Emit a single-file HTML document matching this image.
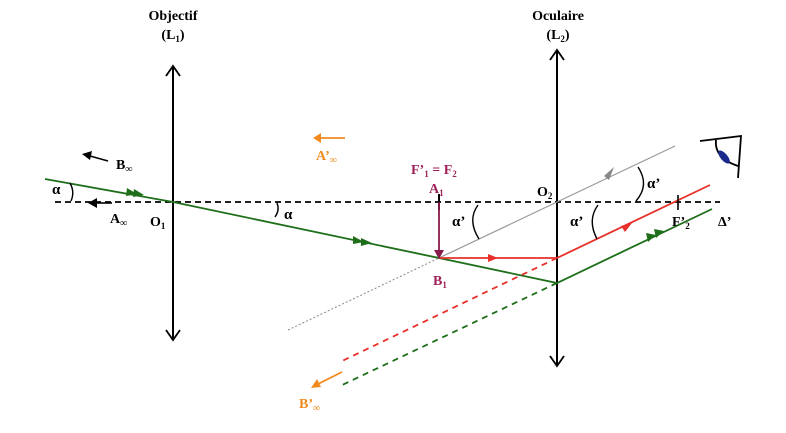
<!DOCTYPE html>
<html><head><meta charset="utf-8"><style>
body{margin:0;background:#fff}
text{font-family:"Liberation Serif",serif;font-weight:bold}
</style></head><body>
<svg width="786" height="428" viewBox="0 0 786 428" xmlns="http://www.w3.org/2000/svg">
<!-- axis -->
<line x1="55" y1="202" x2="720" y2="202" stroke="#000" stroke-width="1.8" stroke-dasharray="6,4"/>
<!-- lenses -->
<line x1="173" y1="340" x2="173" y2="66" stroke="#000" stroke-width="2"/>
<path d="M166,76 L173,66 L180,76 M166,330 L173,340 L180,330" fill="none" stroke="#000" stroke-width="1.8"/>
<line x1="557" y1="366" x2="557" y2="50" stroke="#000" stroke-width="2"/>
<path d="M550,60 L557,50 L564,60 M550,356 L557,366 L564,356" fill="none" stroke="#000" stroke-width="1.8"/>
<!-- gray ray -->
<line x1="288" y1="330" x2="439" y2="258" stroke="#888" stroke-width="1" stroke-dasharray="2,2"/>
<line x1="439" y1="258" x2="675" y2="146" stroke="#999" stroke-width="1.2"/>
<path d="M604,176 L614,167 L609,180 Z" fill="#888"/>
<!-- green -->
<polyline points="45,179 173,202 439,258 557,283 712,209" fill="none" stroke="#1e6e1a" stroke-width="1.8"/>
<path d="M127,188 L137,194 L126,196 Z M134,189 L144,195 L133,197 Z" fill="#1e6e1a"/>
<path d="M353,236 L364,242 L353,244 Z M361,238 L372,243 L361,246 Z" fill="#1e6e1a"/>
<path d="M646,233 L656,235 L648,242 Z M654,229 L664,231 L656,238 Z" fill="#1e6e1a"/>
<line x1="557" y1="283" x2="340" y2="386" stroke="#1e6e1a" stroke-width="1.8" stroke-dasharray="6,5"/>
<!-- red -->
<polyline points="439,258 557,258 710,185" fill="none" stroke="#e8302a" stroke-width="1.8"/>
<path d="M488,254 L498,258 L488,262 Z" fill="#e8302a"/>
<path d="M621,226 L632,223 L625,232 Z" fill="#e8302a"/>
<line x1="557" y1="258" x2="340" y2="362" stroke="#e8302a" stroke-width="1.8" stroke-dasharray="6,5"/>
<!-- A1B1 -->
<line x1="439" y1="194" x2="439" y2="210" stroke="#000" stroke-width="2"/>
<line x1="439" y1="202" x2="439" y2="252" stroke="#8a1a4a" stroke-width="1.8"/>
<path d="M434,250 L439,259 L444,250 Z" fill="#8a1a4a"/>
<!-- F'2 tick -->
<line x1="678" y1="195" x2="678" y2="210" stroke="#000" stroke-width="1.6"/>
<!-- small arrows -->
<line x1="108" y1="161" x2="90" y2="156" stroke="#000" stroke-width="1.6"/>
<path d="M82,154 L92,151 L90,160 Z" fill="#000"/>
<line x1="112" y1="203" x2="96" y2="203" stroke="#000" stroke-width="1.6"/>
<path d="M88,203 L97,198 L97,208 Z" fill="#000"/>
<line x1="345" y1="138" x2="315" y2="138" stroke="#f08a1e" stroke-width="1.8"/>
<path d="M313,138 L321,133 L321,143 Z" fill="#f08a1e"/>
<line x1="342" y1="372" x2="318" y2="384" stroke="#f08a1e" stroke-width="1.8"/>
<path d="M311,388 L317,379 L321,387 Z" fill="#f08a1e"/>
<!-- angle arcs -->
<path d="M70,183 Q75,192 71,201" fill="none" stroke="#000" stroke-width="1.4"/>
<path d="M277,203 Q280,210 275,217" fill="none" stroke="#000" stroke-width="1.4"/>
<path d="M478,205 Q467,220 479,239" fill="none" stroke="#000" stroke-width="1.4"/>
<path d="M598,205 Q587,220 597,239" fill="none" stroke="#000" stroke-width="1.4"/>
<path d="M638,167 Q650,185 636,201" fill="none" stroke="#000" stroke-width="1.4"/>
<!-- eye -->
<path d="M700,141 L741,136 L738,178 M716,140 Q714,158 738,166" fill="none" stroke="#000" stroke-width="1.8"/>
<ellipse cx="724" cy="157" rx="8" ry="3.5" transform="rotate(50 724 157)" fill="#1a2a8a"/>
<!-- labels -->
<text x="173" y="20" font-size="14" text-anchor="middle">Objectif</text>
<text x="173" y="39" font-size="14" text-anchor="middle">(L<tspan font-size="9" dy="3">1</tspan><tspan dy="-3">)</tspan></text>
<text x="558" y="20" font-size="14" text-anchor="middle">Oculaire</text>
<text x="558" y="39" font-size="14" text-anchor="middle">(L<tspan font-size="9" dy="3">2</tspan><tspan dy="-3">)</tspan></text>
<text x="116" y="169" font-size="14">B<tspan font-size="10" dy="3">∞</tspan></text>
<text x="110" y="223" font-size="14">A<tspan font-size="10" dy="3">∞</tspan></text>
<text x="52" y="194" font-size="15">α</text>
<text x="150" y="226" font-size="14">O<tspan font-size="9" dy="3">1</tspan></text>
<text x="284" y="219" font-size="15">α</text>
<text x="316" y="160" font-size="14" fill="#f08a1e">A’<tspan font-size="10" dy="3">∞</tspan></text>
<text x="411" y="174" font-size="14" fill="#a0205a">F’<tspan font-size="9" dy="3">1</tspan><tspan dy="-3"> = F</tspan><tspan font-size="9" dy="3">2</tspan></text>
<text x="429" y="193" font-size="14" fill="#a0205a">A<tspan font-size="9" dy="3">1</tspan></text>
<text x="433" y="285" font-size="14" fill="#a0205a">B<tspan font-size="9" dy="3">1</tspan></text>
<text x="452" y="226" font-size="15">α’</text>
<text x="537" y="196" font-size="14">O<tspan font-size="9" dy="3">2</tspan></text>
<text x="570" y="226" font-size="15">α’</text>
<text x="647" y="188" font-size="15">α’</text>
<text x="672" y="226" font-size="14">F’<tspan font-size="9" dy="3">2</tspan></text>
<text x="718" y="226" font-size="14">Δ’</text>
<text x="299" y="408" font-size="14" fill="#f08a1e">B’<tspan font-size="10" dy="3">∞</tspan></text>
</svg>
</body></html>
